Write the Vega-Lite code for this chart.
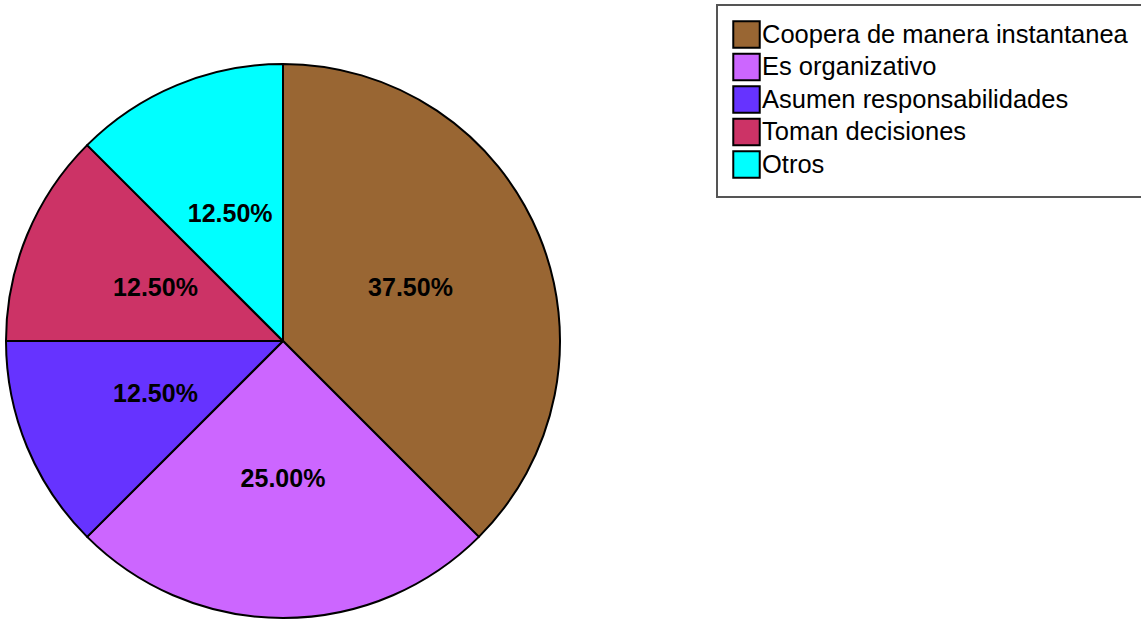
{
  "$schema": "https://vega.github.io/schema/vega-lite/v6.json",
  "autosize": "none",
  "width": 566,
  "height": 570,
  "padding": {"top": 56, "left": 0, "right": 575, "bottom": 0},
  "background": "white",
  "config": {
    "view": {"stroke": null},
    "font": "Liberation Sans",
    "legend": {"strokeColor": "#555555", "strokeWidth": 2}
  },
  "data": {
    "values": [
      {"categoria": "Coopera de manera instantanea", "orden": 1, "valor": 0.375},
      {"categoria": "Es organizativo", "orden": 2, "valor": 0.25},
      {"categoria": "Asumen responsabilidades", "orden": 3, "valor": 0.125},
      {"categoria": "Toman decisiones", "orden": 4, "valor": 0.125},
      {"categoria": "Otros", "orden": 5, "valor": 0.125}
    ]
  },
  "encoding": {
    "theta": {"field": "valor", "type": "quantitative", "stack": true},
    "order": {"field": "orden", "type": "quantitative"}
  },
  "layer": [
    {
      "mark": {"type": "arc", "outerRadius": 277, "stroke": "black", "strokeWidth": 2, "strokeJoin": "round"},
      "encoding": {
        "color": {
          "field": "categoria",
          "type": "nominal",
          "sort": ["Coopera de manera instantanea", "Es organizativo", "Asumen responsabilidades", "Toman decisiones", "Otros"],
          "scale": {
            "domain": ["Coopera de manera instantanea", "Es organizativo", "Asumen responsabilidades", "Toman decisiones", "Otros"],
            "range": ["#996633", "#CC66FF", "#6633FF", "#CC3366", "#00FFFF"]
          },
          "legend": {
            "title": null,
            "orient": "none",
            "legendX": 717,
            "legendY": -51,
            "padding": 15,
            "fillColor": "white",
            "symbolType": "square",
            "symbolSize": 700,
            "symbolStrokeColor": "black",
            "symbolStrokeWidth": 2,
            "symbolOpacity": 1,
            "labelFont": "Liberation Sans",
            "labelFontSize": 25.5,
            "labelColor": "black",
            "labelOffset": 1,
            "labelLimit": 500,
            "rowPadding": -2.5
          }
        }
      }
    },
    {
      "mark": {"type": "text", "radius": 138, "font": "Liberation Sans", "fontWeight": "bold", "fontSize": 25, "color": "black", "align": "center", "baseline": "middle"},
      "encoding": {
        "text": {"field": "valor", "type": "quantitative", "format": ".2%"}
      }
    }
  ]
}
